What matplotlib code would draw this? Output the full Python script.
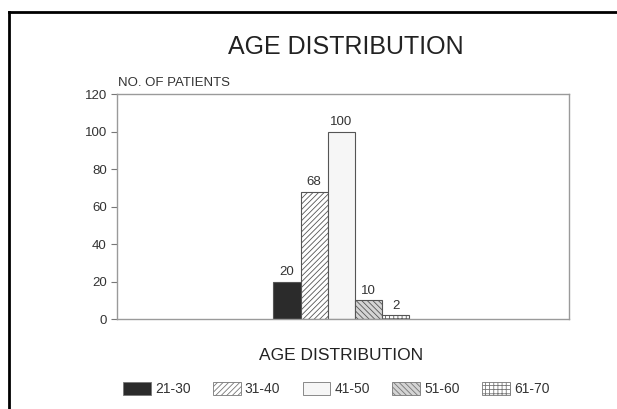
import matplotlib.pyplot as plt
from matplotlib.patches import Patch
from matplotlib.lines import Line2D

plt.rcParams['font.family'] = ['Liberation Sans', 'DejaVu Sans']
plt.rcParams['hatch.linewidth'] = 0.6

# Daten
age_groups = ["21-30", "31-40", "41-50", "51-60", "61-70"]
patients = [20, 68, 100, 10, 2]
y_ticks = [0, 20, 40, 60, 80, 100, 120]

fills = ["#2b2b2b", "white", "#f6f6f6", "#d4d4d4", "white"]
hatches = [None, "//////", None, "\\\\\\\\\\\\", "++++"]

fig = plt.figure(figsize=(6.17, 4.09), dpi=100)
ax = fig.add_axes([0.19, 0.22, 0.733, 0.55])

pos = list(range(len(age_groups)))
for i, (n, c, h) in enumerate(zip(patients, fills, hatches)):
    ax.bar(pos[i], n, width=1.0, color=c, hatch=h, edgecolor="#555555", linewidth=0.8)
    ax.text(pos[i], n + 2, str(n), ha="center", va="bottom", fontsize=9.5, color="#333333")

ax.set_xlim(-6.25, 10.4)
ax.set_ylim(0, 120)
ax.set_yticks(y_ticks)
ax.set_xticks([])
ax.tick_params(axis="y", length=4, width=0.8, color="#777777", labelsize=9.5, labelcolor="#333333")
for s in ax.spines.values():
    s.set_color("#9a9a9a")
    s.set_linewidth(1.0)

fig.text(0.191, 0.783, "NO. OF PATIENTS", fontsize=9.5, color="#333333", ha="left", va="bottom")
fig.text(0.56, 0.885, "AGE DISTRIBUTION", fontsize=18, color="#222222", ha="center", va="center")
fig.text(0.553, 0.13, "AGE DISTRIBUTION", fontsize=12.5, color="#222222", ha="center", va="center")

handles = [Patch(facecolor=c, hatch=h, edgecolor="#777777", linewidth=0.6)
           for c, h in zip(fills, hatches)]
fig.legend(handles, age_groups, loc="center", bbox_to_anchor=(0.545, 0.048), ncol=5,
           frameon=False, fontsize=10, handlelength=2.0, handleheight=1.0,
           columnspacing=1.6, handletextpad=0.3, labelcolor="#333333")

# äußerer Rahmen
fig.add_artist(Line2D([9 / 617, 9 / 617], [0, 1 - 12 / 409], color="black", lw=2.0))
fig.add_artist(Line2D([9 / 617, 1], [1 - 12 / 409, 1 - 12 / 409], color="black", lw=2.0))

fig.savefig("out.png", dpi=100)
